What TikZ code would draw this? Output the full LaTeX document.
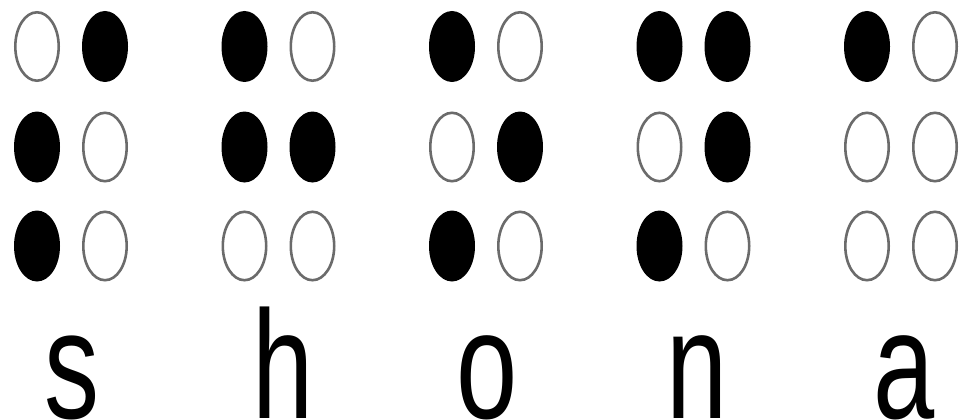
\documentclass[tikz,border=0pt]{standalone}
\usepackage{fontspec}
\setmainfont{Liberation Sans}
\usetikzlibrary{shapes.geometric}
\tikzset{
  dotbase/.style={ellipse, inner sep=0pt, outer sep=0pt},
  dotfull/.style={dotbase, fill=black, minimum width=46pt, minimum height=71pt},
  dotempty/.style={dotbase, draw=black!58, line width=2.6pt, fill=white, minimum width=43.4pt, minimum height=68.4pt},
  letter/.style={anchor=base, inner sep=0pt, font=\fontsize{110}{110}\selectfont}
}
\begin{document}
\begin{tikzpicture}[x=1pt, y=-1pt]
\useasboundingbox (0,0) rectangle (959,420);
\fill[white] (0,0) rectangle (959,420);
% cell s (dots 2,3,4)
\node[dotempty] (s1) at (37,46.5) {};
\node[dotfull]  (s2) at (37,147) {};
\node[dotfull]  (s3) at (37,246) {};
\node[dotfull]  (s4) at (105,46.5) {};
\node[dotempty] (s5) at (105,147) {};
\node[dotempty] (s6) at (105,246) {};
% cell h (dots 1,2,5)
\node[dotfull]  (h1) at (244.5,46.5) {};
\node[dotfull]  (h2) at (244.5,147) {};
\node[dotempty] (h3) at (244.5,246) {};
\node[dotempty] (h4) at (312.5,46.5) {};
\node[dotfull]  (h5) at (312.5,147) {};
\node[dotempty] (h6) at (312.5,246) {};
% cell o (dots 1,3,5)
\node[dotfull]  (o1) at (452,46.5) {};
\node[dotempty] (o2) at (452,147) {};
\node[dotfull]  (o3) at (452,246) {};
\node[dotempty] (o4) at (520,46.5) {};
\node[dotfull]  (o5) at (520,147) {};
\node[dotempty] (o6) at (520,246) {};
% cell n (dots 1,3,4,5)
\node[dotfull]  (n1) at (659.5,46.5) {};
\node[dotempty] (n2) at (659.5,147) {};
\node[dotfull]  (n3) at (659.5,246) {};
\node[dotfull]  (n4) at (727.5,46.5) {};
\node[dotfull]  (n5) at (727.5,147) {};
\node[dotempty] (n6) at (727.5,246) {};
% cell a (dot 1)
\node[dotfull]  (a1) at (867,46.5) {};
\node[dotempty] (a2) at (867,147) {};
\node[dotempty] (a3) at (867,246) {};
\node[dotempty] (a4) at (935,46.5) {};
\node[dotempty] (a5) at (935,147) {};
\node[dotempty] (a6) at (935,246) {};
% letters
\node[letter] (ls) at (72.5,418) {\scalebox{1}[1.4]{s}};
\node[letter] (lh) at (283,418) {\scalebox{1}[1.4]{h}};
\node[letter] (lo) at (487.5,418) {\scalebox{1}[1.4]{o}};
\node[letter] (ln) at (697.5,418) {\scalebox{1}[1.4]{n}};
\node[letter] (la) at (904,418) {\scalebox{1}[1.4]{a}};
\end{tikzpicture}
\end{document}
